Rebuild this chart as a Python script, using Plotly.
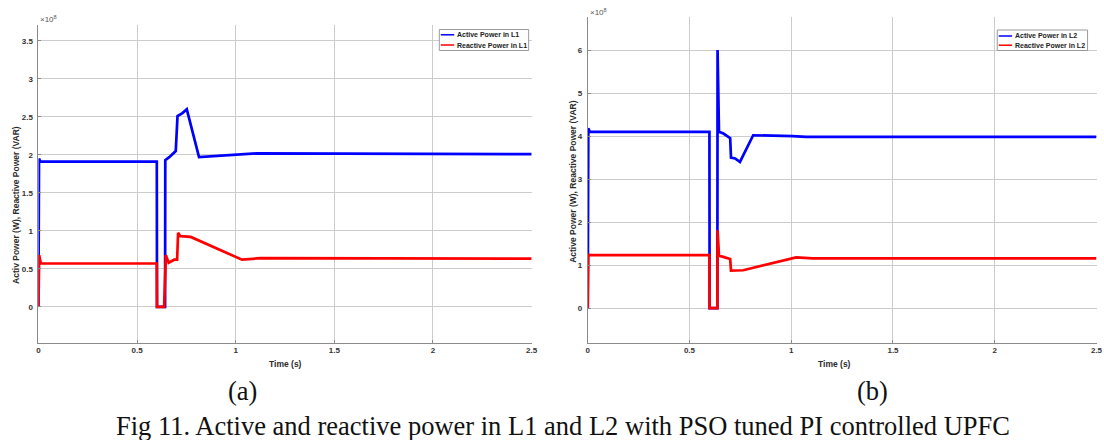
import plotly.graph_objects as go

W, H = 1104, 440

# ---------------- data (values in units of 1e8) ----------------
time_active_L1 = [0, 0.003, 0.01, 0.6, 0.601, 0.642, 0.643, 0.663, 0.696, 0.705, 0.73, 0.752, 0.814, 1.007, 1.108, 2.5]
active_L1 = [0, 1.95, 1.91, 1.91, 0, 0, 1.93, 1.97, 2.05, 2.51, 2.55, 2.60, 1.97, 2.0, 2.02, 2.01]

time_reactive_L1 = [0, 0.004, 0.012, 0.6, 0.601, 0.637, 0.646, 0.66, 0.688, 0.703, 0.708, 0.72, 0.772, 1.032, 1.124, 2.5]
reactive_L1 = [0, 0.68, 0.57, 0.57, 0, 0, 0.68, 0.58, 0.62, 0.62, 0.975, 0.93, 0.92, 0.62, 0.64, 0.635]

time_active_L2 = [0, 0.003, 0.01, 0.598, 0.599, 0.637, 0.638, 0.645, 0.667, 0.70, 0.704, 0.724, 0.748, 0.813, 1.008, 1.073, 2.5]
active_L2 = [0, 4.18, 4.10, 4.10, 0, 0, 6.0, 4.10, 4.06, 3.95, 3.50, 3.48, 3.40, 4.02, 4.0, 3.98, 3.98]

time_reactive_L2 = [0, 0.003, 0.01, 0.598, 0.599, 0.637, 0.638, 0.645, 0.70, 0.704, 0.764, 1.024, 1.105, 2.5]
reactive_L2 = [0, 1.25, 1.23, 1.23, 0, 0, 1.81, 1.22, 1.14, 0.87, 0.88, 1.18, 1.155, 1.155]

x_ticks = [0, 0.5, 1, 1.5, 2, 2.5]
x_tick_labels = ["0", "0.5", "1", "1.5", "2", "2.5"]
y_ticks_L1 = [0, 0.5, 1, 1.5, 2, 2.5, 3, 3.5]
y_tick_labels_L1 = ["0", "0.5", "1", "1.5", "2", "2.5", "3", "3.5"]
y_ticks_L2 = [0, 1, 2, 3, 4, 5, 6]
y_tick_labels_L2 = ["0", "1", "2", "3", "4", "5", "6"]

names_L1 = ["Active Power in L1", "Reactive Power in L1"]
names_L2 = ["Active Power in L2", "Reactive Power in L2"]
colors = ["#0000ff", "#ff0000"]

ylabel_L1 = "Activ Power (W), Reactive Power (VAR)"
ylabel_L2 = "Active Power (W), Reactive Power (VAR)"
xlabel = "Time (s)"
caption = "Fig 11. Active and reactive power in L1 and L2 with PSO tuned PI controlled UPFC"

# ---------------- figure ----------------
def px(x):
    return x / W

def py(y):
    return 1 - y / H

fig = go.Figure()
lw = 2.7
fig.add_trace(go.Scatter(x=time_active_L1, y=active_L1, mode="lines", name=names_L1[0],
                         line=dict(color=colors[0], width=lw), xaxis="x", yaxis="y", showlegend=False))
fig.add_trace(go.Scatter(x=time_reactive_L1, y=reactive_L1, mode="lines", name=names_L1[1],
                         line=dict(color=colors[1], width=lw), xaxis="x", yaxis="y", showlegend=False))
fig.add_trace(go.Scatter(x=time_active_L2, y=active_L2, mode="lines", name=names_L2[0],
                         line=dict(color=colors[0], width=lw), xaxis="x2", yaxis="y2", showlegend=False))
fig.add_trace(go.Scatter(x=time_reactive_L2, y=reactive_L2, mode="lines", name=names_L2[1],
                         line=dict(color=colors[1], width=lw), xaxis="x2", yaxis="y2", showlegend=False))

tickfont = dict(family="Liberation Sans, Arial, sans-serif", size=8, color="#333333", weight="bold")
grid = "#cccccc"
axline = "#8a8a8a"

common_x = dict(tickvals=x_ticks, ticktext=x_tick_labels, showgrid=True, gridcolor=grid, gridwidth=1,
                zeroline=False, showline=True, linecolor=axline, linewidth=1, ticks="inside",
                ticklen=3, tickcolor=axline, tickfont=tickfont, range=[0, 2.5], fixedrange=True)
common_y = dict(showgrid=True, gridcolor=grid, gridwidth=1, zeroline=False, showline=True,
                linecolor=axline, linewidth=1, ticks="inside", ticklen=3, tickcolor=axline,
                tickfont=tickfont, ticklabelstandoff=3, fixedrange=True)

L_x0, L_x1 = 36.7, 533.5
R_x0, R_x1 = 590.0, 1102.5
B_y = 342.5
L_top, R_top = 25.0, 17.0

fig.update_layout(
    width=W, height=H,
    margin=dict(l=0, r=0, t=0, b=0),
    paper_bgcolor="white", plot_bgcolor="white",
    xaxis=dict(domain=[px(L_x0), px(L_x1)], anchor="y", **common_x),
    yaxis=dict(domain=[py(B_y), py(L_top)], anchor="x", range=[-0.47, 3.71],
               tickvals=y_ticks_L1, ticktext=y_tick_labels_L1, **common_y),
    xaxis2=dict(domain=[px(R_x0), px(R_x1)], anchor="y2", **common_x),
    yaxis2=dict(domain=[py(B_y), py(R_top)], anchor="x2", range=[-0.80, 6.77],
                tickvals=y_ticks_L2, ticktext=y_tick_labels_L2, **common_y),
)

lab_font = dict(family="Liberation Sans, Arial, sans-serif", size=8.5, color="#2a2a2a", weight="bold")
ann = []
# axis labels
ann.append(dict(text=xlabel, x=px((L_x0 + L_x1) / 2), y=py(363.5), xref="paper", yref="paper",
                showarrow=False, font=lab_font, xanchor="center", yanchor="middle"))
ann.append(dict(text=xlabel, x=px((R_x0 + R_x1) / 2 - 8), y=py(363.5), xref="paper", yref="paper",
                showarrow=False, font=lab_font, xanchor="center", yanchor="middle"))
ann.append(dict(text=ylabel_L1, x=px(14), y=py(205), xref="paper", yref="paper", textangle=-90,
                showarrow=False, font=lab_font, xanchor="center", yanchor="middle"))
ann.append(dict(text=ylabel_L2, x=px(575), y=py(182), xref="paper", yref="paper", textangle=-90,
                showarrow=False, font=lab_font, xanchor="center", yanchor="middle"))
# exponent labels
exp_font = dict(family="Liberation Sans, Arial, sans-serif", size=8, color="#555555")
ann.append(dict(text="×10<sup>8</sup>", x=px(L_x0), y=py(19), xref="paper", yref="paper",
                showarrow=False, font=exp_font, xanchor="left", yanchor="middle"))
ann.append(dict(text="×10<sup>8</sup>", x=px(R_x0), y=py(12), xref="paper", yref="paper",
                showarrow=False, font=exp_font, xanchor="left", yanchor="middle"))
# sub captions and figure caption
cap_font = dict(family="Liberation Serif, Times New Roman, serif", size=26.5, color="#111111")
ann.append(dict(text="(a)", x=px(242), y=py(391), xref="paper", yref="paper",
                showarrow=False, font=cap_font, xanchor="center", yanchor="middle"))
ann.append(dict(text="(b)", x=px(877), y=py(391), xref="paper", yref="paper",
                showarrow=False, font=cap_font, xanchor="center", yanchor="middle"))
ann.append(dict(text=caption, x=px(565), y=py(426), xref="paper", yref="paper",
                showarrow=False, font=cap_font, xanchor="center", yanchor="middle"))

# custom legends
shapes = []
leg_font = dict(family="Liberation Sans, Arial, sans-serif", size=7, color="#222222", weight="bold")

def add_legend(x0, x1, y0, y1, rows, names):
    shapes.append(dict(type="rect", xref="paper", yref="paper", x0=px(x0), x1=px(x1),
                       y0=py(y1), y1=py(y0), line=dict(color="#9a9a9a", width=1), fillcolor="white"))
    for yy, name, col in zip(rows, names, colors):
        shapes.append(dict(type="line", xref="paper", yref="paper", x0=px(x0 + 1.5), x1=px(x0 + 15),
                           y0=py(yy), y1=py(yy), line=dict(color=col, width=1.5)))
        ann.append(dict(text=name, x=px(x0 + 15.5), y=py(yy), xref="paper", yref="paper",
                        showarrow=False, font=leg_font, xanchor="left", yanchor="middle"))

add_legend(440.5, 530.5, 29.5, 50.5, [34.8, 45.0], names_L1)
add_legend(1002.5, 1093.5, 30.0, 50.5, [36.0, 45.2], names_L2)

fig.update_layout(annotations=ann, shapes=shapes)

fig.write_html("out.html")
